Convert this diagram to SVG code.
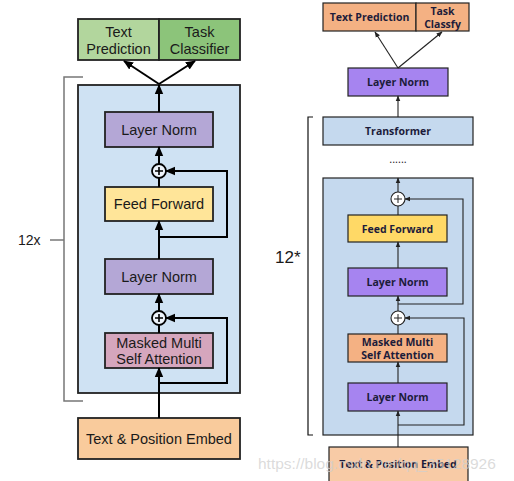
<svg xmlns="http://www.w3.org/2000/svg" width="514" height="481" viewBox="0 0 514 481">
<defs>
<style>
.lt{font-family:"Liberation Sans",Arial,sans-serif;font-size:14.5px;fill:#1a1a1a;text-anchor:middle}
.rt{font-family:"Open Sans","Noto Sans",sans-serif;font-size:10.5px;font-weight:bold;fill:#1c1c3a;text-anchor:middle}
.lb{stroke:#222;stroke-width:1.8}
.rb{stroke:#222;stroke-width:1.2}
.lc{fill:none;stroke:#000;stroke-width:2}
.rc{fill:none;stroke:#222;stroke-width:1.1}
</style>
<marker id="la" markerUnits="userSpaceOnUse" markerWidth="10" markerHeight="10" viewBox="0 0 10 10" refX="9" refY="5" orient="auto">
<path d="M0,0.8 L10,5 L0,9.2 Z" fill="#000"/>
</marker>
<marker id="ra" markerUnits="userSpaceOnUse" markerWidth="6" markerHeight="6" viewBox="0 0 10 10" refX="9" refY="5" orient="auto">
<path d="M0,1 L10,5 L0,9 Z" fill="#222"/>
</marker>
</defs>
<rect width="514" height="481" fill="#fff"/>

<!-- LEFT DIAGRAM -->
<g id="left-block"><rect x="78" y="85" width="162" height="308" fill="#cfe2f3" class="lb"/></g>
<g id="left-bracket" fill="none" stroke="#777" stroke-width="1.5">
<polyline points="83,77 64,77 64,401 83,401"/>
<line x1="50" y1="240" x2="64" y2="240"/>
</g>
<text x="18" y="245" font-family="'Liberation Sans',Arial,sans-serif" font-size="14" fill="#1a1a1a">12x</text>
<g id="l-textpred"><rect x="78" y="19" width="81" height="41" fill="#b2d69d" class="lb"/><text class="lt" x="118.5" y="37">Text</text><text class="lt" x="118.5" y="54">Prediction</text></g>
<g id="l-taskcls"><rect x="159" y="19" width="81" height="41" fill="#8cc47a" class="lb"/><text class="lt" x="199.5" y="37">Task</text><text class="lt" x="199.5" y="54">Classifier</text></g>
<g id="l-ln1"><rect x="105" y="112" width="108" height="35" fill="#b4a7d6" class="lb"/><text class="lt" x="159" y="134.5">Layer Norm</text></g>
<g id="l-add1"><circle cx="159" cy="171" r="7" fill="#eef4fb" stroke="#000" stroke-width="1.8"/><path d="M155,171 H163 M159,167 V175" stroke="#000" stroke-width="1.6"/></g>
<g id="l-ff"><rect x="105" y="187" width="108" height="34" fill="#ffe599" class="lb"/><text class="lt" x="159" y="209">Feed Forward</text></g>
<g id="l-ln2"><rect x="105" y="259" width="108" height="35" fill="#b4a7d6" class="lb"/><text class="lt" x="159" y="281.5">Layer Norm</text></g>
<g id="l-add2"><circle cx="159" cy="318" r="7" fill="#eef4fb" stroke="#000" stroke-width="1.8"/><path d="M155,318 H163 M159,314 V322" stroke="#000" stroke-width="1.6"/></g>
<g id="l-mmsa"><rect x="105" y="333" width="108" height="35" fill="#d5a6bd" class="lb"/><text class="lt" x="159" y="347.5">Masked Multi</text><text class="lt" x="159" y="364">Self Attention</text></g>
<g id="l-embed"><rect x="78" y="418" width="162" height="41" fill="#f9cb9c" class="lb"/><text class="lt" x="159" y="443.5">Text &amp; Position Embed</text></g>

<g id="l-connectors" class="lc">
<line x1="159" y1="112" x2="159" y2="85" marker-end="url(#la)"/>
<line x1="159" y1="84" x2="124" y2="61" marker-end="url(#la)"/>
<line x1="159" y1="84" x2="195" y2="61" marker-end="url(#la)"/>
<line x1="159" y1="164" x2="159" y2="147" marker-end="url(#la)"/>
<line x1="159" y1="187" x2="159" y2="178"/>
<line x1="159" y1="259" x2="159" y2="221" marker-end="url(#la)"/>
<polyline points="159,237 227,237 227,171 166,171" marker-end="url(#la)"/>
<line x1="159" y1="311" x2="159" y2="294" marker-end="url(#la)"/>
<line x1="159" y1="333" x2="159" y2="325"/>
<polyline points="159,383 227,383 227,318 166,318" marker-end="url(#la)"/>
<line x1="159" y1="418" x2="159" y2="368" marker-end="url(#la)"/>
</g>

<!-- RIGHT DIAGRAM -->
<g id="r-block"><rect x="323" y="178" width="150" height="257" fill="#c5d9ee" class="rb"/></g>
<g id="r-bracket" fill="none" stroke="#111" stroke-width="1.2">
<polyline points="313,117 308,117 308,435 313,435"/>
</g>
<text x="275" y="263" font-family="'Liberation Sans',Arial,sans-serif" font-size="17" fill="#1a1a1a">12*</text>
<g id="r-textpred"><rect x="323" y="3" width="93" height="28" fill="#f4b183" class="rb"/><text class="rt" x="369.5" y="21">Text Prediction</text></g>
<g id="r-taskcls"><rect x="416" y="3" width="53" height="28" fill="#f4b183" class="rb"/><text class="rt" x="442.5" y="15">Task</text><text class="rt" x="442.5" y="27.5">Classfy</text></g>
<g id="r-ln-top"><rect x="348" y="68" width="100" height="28" fill="#a684f0" class="rb"/><text class="rt" x="398" y="86">Layer Norm</text></g>
<g id="r-transformer"><rect x="323" y="117" width="150" height="28" fill="#c5d9ee" class="rb"/><text class="rt" x="398" y="135">Transformer</text></g>
<text x="398" y="163" font-family="'Open Sans',sans-serif" font-size="11" fill="#222" text-anchor="middle">......</text>
<g id="r-add1"><circle cx="398" cy="199" r="7" fill="#fff" stroke="#222" stroke-width="1.1"/><path d="M394,199 H402 M398,195 V203" stroke="#222" stroke-width="1"/></g>
<g id="r-ff"><rect x="348" y="215" width="99" height="27" fill="#ffd966" class="rb"/><text class="rt" x="397.5" y="232.5">Feed Forward</text></g>
<g id="r-ln2"><rect x="348" y="268" width="99" height="28" fill="#a684f0" class="rb"/><text class="rt" x="397.5" y="286">Layer Norm</text></g>
<g id="r-add2"><circle cx="398" cy="318" r="7" fill="#fff" stroke="#222" stroke-width="1.1"/><path d="M394,318 H402 M398,314 V322" stroke="#222" stroke-width="1"/></g>
<g id="r-mmsa"><rect x="348" y="334" width="99" height="28" fill="#f4b183" class="rb"/><text class="rt" x="397.5" y="346">Masked Multi</text><text class="rt" x="397.5" y="358.5">Self Attention</text></g>
<g id="r-ln3"><rect x="348" y="383" width="99" height="28" fill="#a684f0" class="rb"/><text class="rt" x="397.5" y="401">Layer Norm</text></g>
<g id="r-embed"><rect x="329" y="447" width="139" height="38" fill="#f8cba6" class="rb"/><text class="rt" x="398" y="468">Text &amp; Position Embed</text></g>

<g id="r-connectors" class="rc">
<line x1="398" y1="68" x2="375" y2="32" marker-end="url(#ra)"/>
<line x1="398" y1="68" x2="442" y2="32" marker-end="url(#ra)"/>
<line x1="398" y1="117" x2="398" y2="96" marker-end="url(#ra)"/>
<line x1="398" y1="192" x2="398" y2="178" marker-end="url(#ra)"/>
<line x1="398" y1="215" x2="398" y2="206"/>
<line x1="398" y1="268" x2="398" y2="242" marker-end="url(#ra)"/>
<polyline points="398,304 463,304 463,199 405,199" marker-end="url(#ra)"/>
<line x1="398" y1="311" x2="398" y2="296" marker-end="url(#ra)"/>
<line x1="398" y1="334" x2="398" y2="325"/>
<line x1="398" y1="383" x2="398" y2="362" marker-end="url(#ra)"/>
<polyline points="398,425 464,425 464,318 405,318" marker-end="url(#ra)"/>
<line x1="398" y1="447" x2="398" y2="411" marker-end="url(#ra)"/>
</g>

<text x="258" y="469" font-family="'Liberation Sans',Arial,sans-serif" font-size="15.5" fill="#cfcfcf" fill-opacity="0.75">https://blog.csdn.net/qq_35128926</text>
</svg>
